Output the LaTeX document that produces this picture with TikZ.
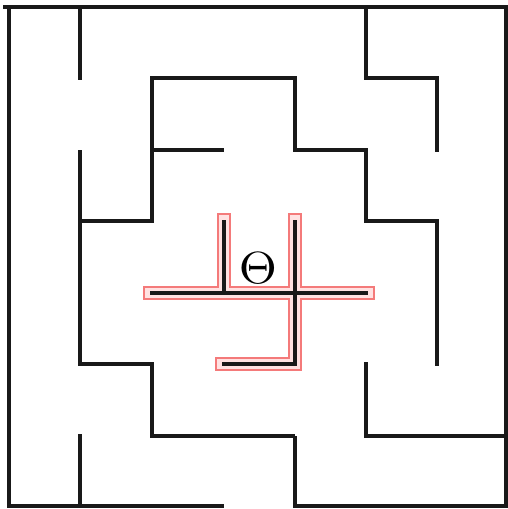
\documentclass[tikz,border=0pt]{standalone}
\usetikzlibrary{calc}
\definecolor{glowedge}{HTML}{F47A7A}
\definecolor{glowin}{HTML}{FFE2E2}
\tikzset{
  wall/.style={line width=3.6pt, black!90, line join=miter},
  outer/.style={line width=4.4pt, black!90, line join=miter},
  glowA/.style={line width=14pt, glowedge, line join=miter, line cap=rect},
  glowB/.style={line width=10.5pt, glowin, line join=miter, line cap=rect},
}
\begin{document}
\begin{tikzpicture}[x=1pt,y=-1pt]
\useasboundingbox (0,0) rectangle (508,509);
% outer frame
\draw[outer] (3,7) -- (508,7);
\draw[outer] (9,5) -- (9,506) -- (224,506);
\draw[outer] (506,5) -- (506,506) -- (295,506) -- (295,436);
% inner walls
\draw[wall] (80,7) -- (80,80);
\draw[wall] (80,150) -- (80,364) -- (152,364) -- (152,436) -- (295,436);
\draw[wall] (80,221) -- (152,221) -- (152,78) -- (295,78) -- (295,150) -- (366,150) -- (366,221) -- (437,221) -- (437,366);
\draw[wall] (152,150) -- (224,150);
\draw[wall] (366,7) -- (366,78) -- (437,78) -- (437,152);
\draw[wall] (366,362) -- (366,436) -- (506,436);
\draw[wall] (80,434) -- (80,506);
% highlighted centre
\foreach \s in {glowA,glowB}{
  \draw[\s] (150,293) -- (368,293);
  \draw[\s] (224,220) -- (224,293);
  \draw[\s] (295,220) -- (295,364) -- (222,364);
}
\draw[wall] (150,293) -- (368,293);
\draw[wall] (224,220) -- (224,293);
\draw[wall] (295,220) -- (295,364) -- (222,364);
\node[inner sep=0pt, xscale=4.9, yscale=4.5] (theta) at (258,268) {$\Theta$};
\end{tikzpicture}
\end{document}
